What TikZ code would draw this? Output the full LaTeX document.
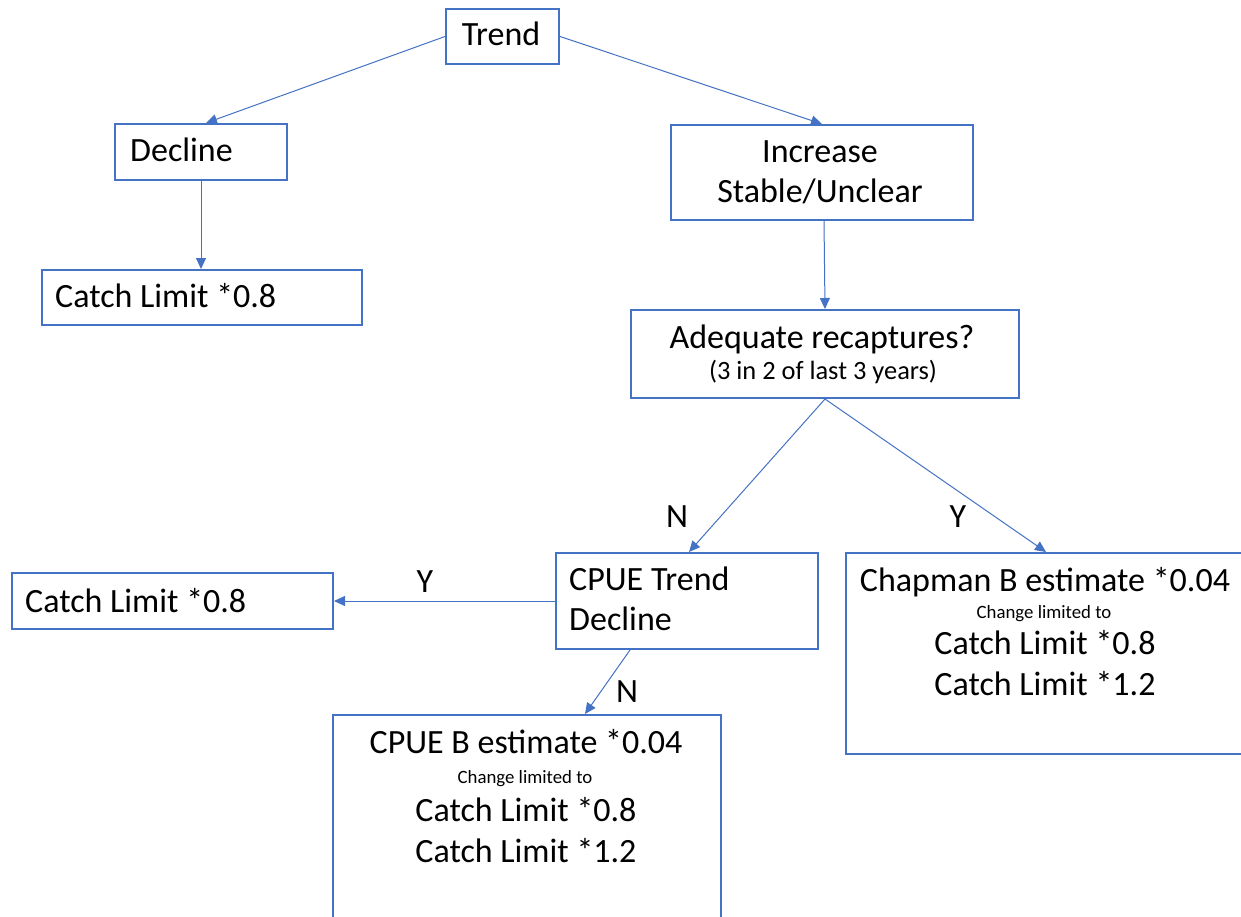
\documentclass[tikz,border=0pt]{standalone}
\usepackage{fontspec}
\setmainfont{Carlito}
\usetikzlibrary{arrows.meta,calc}
\definecolor{bxblue}{HTML}{4472C4}
\tikzset{
  box/.style={draw=bxblue, line width=2pt, inner sep=0pt, anchor=north west},
  big/.style={inner sep=0pt, text=black, font=\fontsize{34pt}{40pt}\selectfont},
  mid/.style={inner sep=0pt, text=black, font=\fontsize{26.4pt}{31pt}\selectfont},
  small/.style={inner sep=0pt, text=black, font=\fontsize{18.8pt}{22pt}\selectfont},
  arr/.style={draw=bxblue, line width=1pt, -{Triangle[length=11pt,width=10pt]}},
}
\begin{document}
\begin{tikzpicture}[x=1pt,y=-1pt]
\path[use as bounding box] (0,0) rectangle (1241,917);
\fill[white] (0,0) rectangle (1241,917);
\clip (0,0) rectangle (1241,917);

% boxes
\node[box, minimum width=113pt, minimum height=55pt] (trend) at (445,8) {};
\node[box, minimum width=172pt, minimum height=56pt] (decl) at (114,123) {};
\node[box, minimum width=320pt, minimum height=55pt] (catchA) at (41,269) {};
\node[box, minimum width=302pt, minimum height=95pt] (inc) at (670,124) {};
\node[box, minimum width=388pt, minimum height=88pt] (adeq) at (630,309) {};
\node[box, minimum width=262pt, minimum height=96pt] (cpt) at (555,552) {};
\node[box, minimum width=321pt, minimum height=56pt] (catchB) at (11,572) {};
\node[box, minimum width=400pt, minimum height=201pt] (chap) at (845,552) {};
\node[box, minimum width=388pt, minimum height=230pt] (cpb) at (332,714) {};

% texts
\node[big, anchor=base] (ttrend) at (501,46) {Trend};
\node[big, anchor=base west] (tdecl) at (130,162) {Decline};
\node[big, anchor=base west] (tcatchA) at (55,307) {Catch Limit *0.8};
\node[big, anchor=base] (tinc1) at (820,163) {Increase};
\node[big, anchor=base] (tinc2) at (820,203) {Stable/Unclear};
\node[big, anchor=base] (tadeq1) at (822,348) {Adequate recaptures?};
\node[mid, anchor=base] (tadeq2) at (823,379) {(3 in 2 of last 3 years)};
\node[big, anchor=base west] (tcpt1) at (569,590) {CPUE Trend};
\node[big, anchor=base west] (tcpt2) at (569,630) {Decline};
\node[big, anchor=base west] (tcatchB) at (25,612) {Catch Limit *0.8};
\node[big, anchor=base] (tchap1) at (1045,591) {Chapman B estimate *0.04};
\node[small, anchor=base] (tchap2) at (1044,618) {Change limited to};
\node[big, anchor=base] (tchap3) at (1045,654) {Catch Limit *0.8};
\node[big, anchor=base] (tchap4) at (1045,695) {Catch Limit *1.2};
\node[big, anchor=base] (tcpb1) at (526,753) {CPUE B estimate *0.04};
\node[small, anchor=base] (tcpb2) at (525,783) {Change limited to};
\node[big, anchor=base] (tcpb3) at (526,821) {Catch Limit *0.8};
\node[big, anchor=base] (tcpb4) at (526,862) {Catch Limit *1.2};

% labels
\node[big, anchor=base] (lN1) at (677,527) {N};
\node[big, anchor=base] (lY1) at (958,527) {Y};
\node[big, anchor=base] (lY2) at (425,592) {Y};
\node[big, anchor=base] (lN2) at (627,702) {N};

% connectors
\draw[arr] (trend.west) -- ($(decl.north)+(5,0)$);
\draw[arr] (trend.east) -- (inc.north);
\draw[arr] (decl.south) -- (decl.south |- catchA.north);
\draw[arr] ($(inc.south)+(2,0)$) -- (adeq.north);
\draw[arr] (adeq.south) -- ($(cpt.north)+(2,0)$);
\draw[arr] (adeq.south) -- (chap.north);
\draw[arr] (cpt.west) -- (cpt.west -| catchB.east);
\draw[arr] ($(cpt.south west)+(75,0)$) -- ($(cpb.north west)+(253,0)$);
\end{tikzpicture}
\end{document}
